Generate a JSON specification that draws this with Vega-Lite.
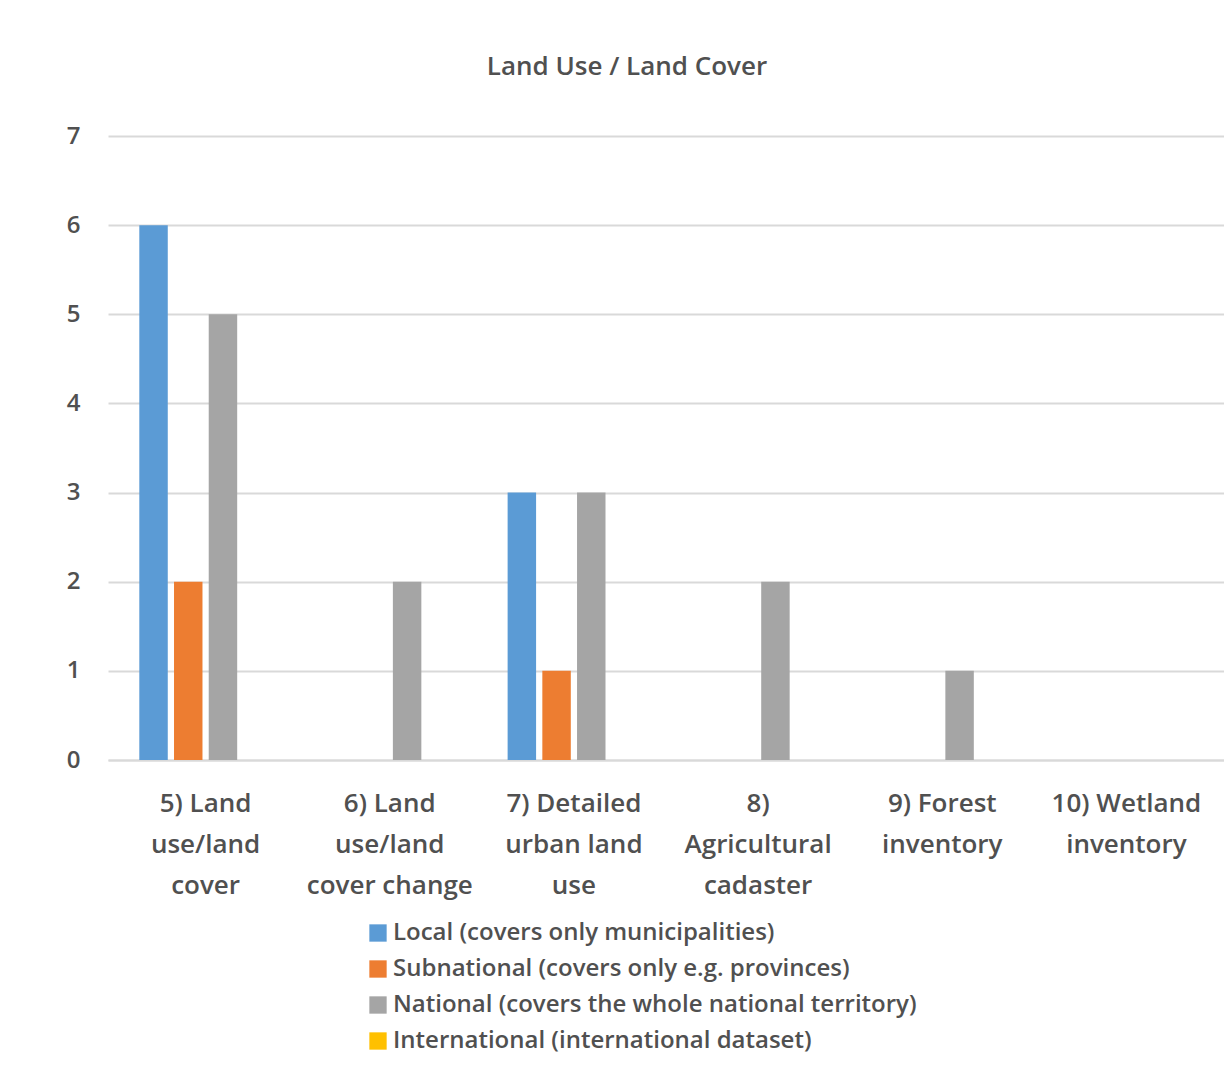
{
  "$schema": "https://vega.github.io/schema/vega-lite/v6.json",
  "autosize": "none",
  "width": 1116,
  "height": 624,
  "padding": {"left": 108, "top": 136, "right": 0, "bottom": 305},
  "background": "white",
  "config": {
    "view": {"stroke": null},
    "font": "Open Sans"
  },
  "title": {
    "text": "Land Use / Land Cover",
    "fontSize": 26,
    "fontWeight": 600,
    "color": "#505050",
    "font": "Open Sans",
    "anchor": "middle",
    "dx": -39,
    "offset": 44
  },
  "data": {
    "values": [
      {"category": "5) Land use/land cover", "scope": "Local (covers only municipalities)", "count": 6},
      {"category": "5) Land use/land cover", "scope": "Subnational (covers only e.g. provinces)", "count": 2},
      {"category": "5) Land use/land cover", "scope": "National (covers the whole national territory)", "count": 5},
      {"category": "5) Land use/land cover", "scope": "International (international dataset)", "count": 0},
      {"category": "6) Land use/land cover change", "scope": "Local (covers only municipalities)", "count": 0},
      {"category": "6) Land use/land cover change", "scope": "Subnational (covers only e.g. provinces)", "count": 0},
      {"category": "6) Land use/land cover change", "scope": "National (covers the whole national territory)", "count": 2},
      {"category": "6) Land use/land cover change", "scope": "International (international dataset)", "count": 0},
      {"category": "7) Detailed urban land use", "scope": "Local (covers only municipalities)", "count": 3},
      {"category": "7) Detailed urban land use", "scope": "Subnational (covers only e.g. provinces)", "count": 1},
      {"category": "7) Detailed urban land use", "scope": "National (covers the whole national territory)", "count": 3},
      {"category": "7) Detailed urban land use", "scope": "International (international dataset)", "count": 0},
      {"category": "8) Agricultural cadaster", "scope": "Local (covers only municipalities)", "count": 0},
      {"category": "8) Agricultural cadaster", "scope": "Subnational (covers only e.g. provinces)", "count": 0},
      {"category": "8) Agricultural cadaster", "scope": "National (covers the whole national territory)", "count": 2},
      {"category": "8) Agricultural cadaster", "scope": "International (international dataset)", "count": 0},
      {"category": "9) Forest inventory", "scope": "Local (covers only municipalities)", "count": 0},
      {"category": "9) Forest inventory", "scope": "Subnational (covers only e.g. provinces)", "count": 0},
      {"category": "9) Forest inventory", "scope": "National (covers the whole national territory)", "count": 1},
      {"category": "9) Forest inventory", "scope": "International (international dataset)", "count": 0},
      {"category": "10) Wetland inventory", "scope": "Local (covers only municipalities)", "count": 0},
      {"category": "10) Wetland inventory", "scope": "Subnational (covers only e.g. provinces)", "count": 0},
      {"category": "10) Wetland inventory", "scope": "National (covers the whole national territory)", "count": 0},
      {"category": "10) Wetland inventory", "scope": "International (international dataset)", "count": 0}
    ]
  },
  "mark": {"type": "bar"},
  "encoding": {
    "x": {
      "field": "category",
      "type": "nominal",
      "sort": ["5) Land use/land cover", "6) Land use/land cover change", "7) Detailed urban land use", "8) Agricultural cadaster", "9) Forest inventory", "10) Wetland inventory"],
      "scale": {"paddingInner": 0.28, "paddingOuter": 0.17},
      "axis": {
        "title": null,
        "labelAngle": 0,
        "labelFontSize": 26,
        "labelFontWeight": 600,
        "labelColor": "#505050",
        "labelFont": "Open Sans",
        "labelLineHeight": 41,
        "labelPadding": 30,
        "labelBaseline": "top",
        "ticks": false,
        "domainColor": "#d9d9d9",
        "domainWidth": 2,
        "labelExpr": "datum.value == '5) Land use/land cover' ? ['5) Land', 'use/land', 'cover'] : datum.value == '6) Land use/land cover change' ? ['6) Land', 'use/land', 'cover change'] : datum.value == '7) Detailed urban land use' ? ['7) Detailed', 'urban land', 'use'] : datum.value == '8) Agricultural cadaster' ? ['8)', 'Agricultural', 'cadaster'] : datum.value == '9) Forest inventory' ? ['9) Forest', 'inventory'] : ['10) Wetland', 'inventory']"
      }
    },
    "xOffset": {
      "field": "scope",
      "type": "nominal",
      "sort": ["Local (covers only municipalities)", "Subnational (covers only e.g. provinces)", "National (covers the whole national territory)", "International (international dataset)"],
      "scale": {"paddingInner": 0.18}
    },
    "y": {
      "field": "count",
      "type": "quantitative",
      "scale": {"domain": [0, 7], "nice": false},
      "axis": {
        "title": null,
        "values": [0, 1, 2, 3, 4, 5, 6, 7],
        "labelOverlap": false,
        "domain": false,
        "ticks": false,
        "labelFontSize": 24,
        "labelFontWeight": 600,
        "labelColor": "#505050",
        "labelFont": "Open Sans",
        "labelPadding": 28,
        "gridColor": "#d9d9d9",
        "gridWidth": 2
      }
    },
    "color": {
      "field": "scope",
      "type": "nominal",
      "sort": ["Local (covers only municipalities)", "Subnational (covers only e.g. provinces)", "National (covers the whole national territory)", "International (international dataset)"],
      "scale": {
        "domain": ["Local (covers only municipalities)", "Subnational (covers only e.g. provinces)", "National (covers the whole national territory)", "International (international dataset)"],
        "range": ["#5B9BD5", "#ED7D31", "#A5A5A5", "#FFC000"]
      },
      "legend": {
        "title": null,
        "orient": "none",
        "legendX": 258,
        "legendY": 785,
        "direction": "vertical",
        "symbolType": "square",
        "symbolSize": 300,
        "symbolStrokeWidth": 0,
        "symbolOpacity": 1,
        "labelFontSize": 24,
        "labelFontWeight": 600,
        "labelColor": "#505050",
        "labelFont": "Open Sans",
        "labelOffset": 3,
        "rowPadding": 12,
        "labelLimit": 900
      }
    }
  }
}
